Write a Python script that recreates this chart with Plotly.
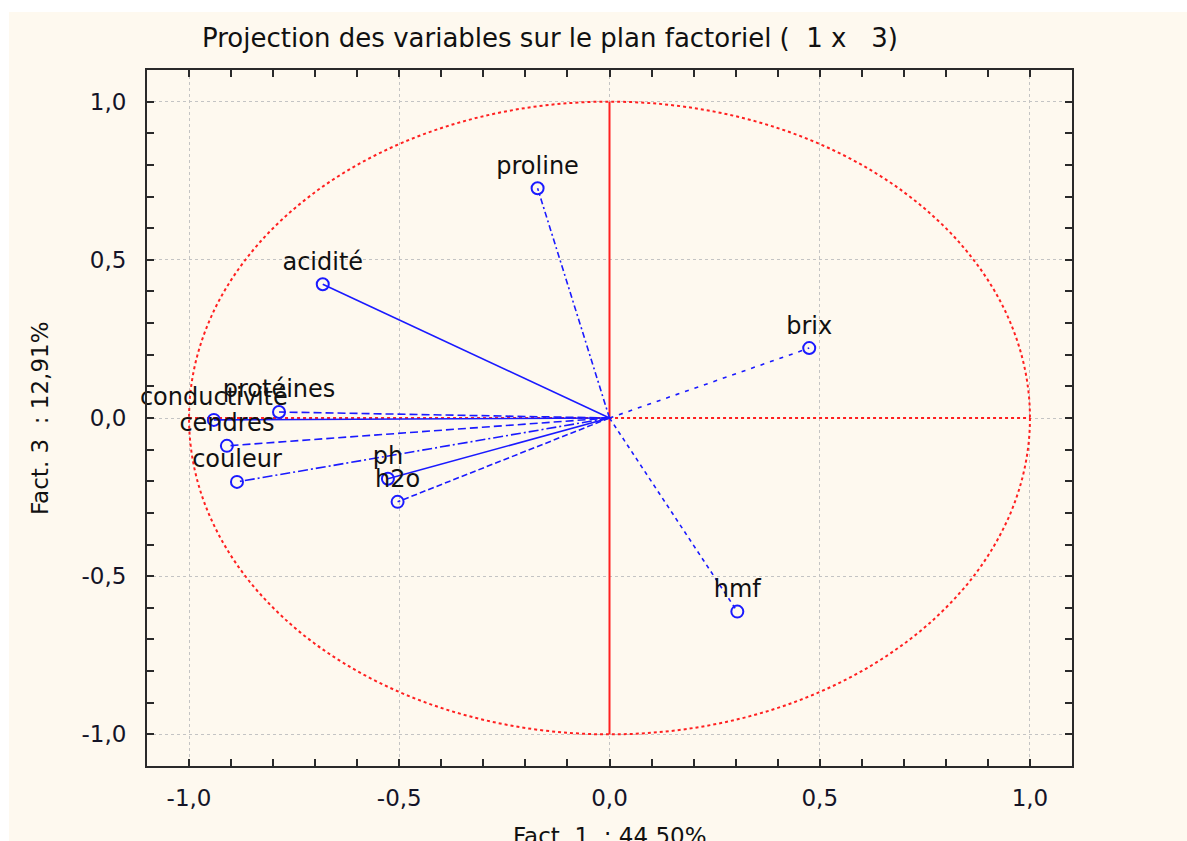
import plotly.graph_objects as go

# ---- data ----
variables = ["proline", "acidité", "brix", "hmf", "protéines", "conductivité",
             "cendres", "couleur", "ph", "h2o"]
fact1 = [-0.171, -0.682, 0.475, 0.304, -0.786, -0.941, -0.910, -0.886, -0.527, -0.504]
fact3 = [0.726, 0.423, 0.221, -0.612, 0.019, -0.006, -0.088, -0.202, -0.192, -0.265]
tick_values = [-1.0, -0.5, 0.0, 0.5, 1.0]
tick_labels = ["-1,0", "-0,5", "0,0", "0,5", "1,0"]

title_text = "Projection des variables sur le plan factoriel (  1 x   3)"
xtitle_text = "Fact. 1  : 44,50%"
ytitle_text = "Fact. 3  : 12,91%"

# ---- styles ----
line_dash = {
    "proline": "6px,3px,2px,3px",
    "acidité": "solid",
    "brix": "4px,6px",
    "hmf": "4px,4px",
    "protéines": "8px,4px",
    "conductivité": "solid",
    "cendres": "8px,4px",
    "couleur": "10px,3px,2px,3px",
    "ph": "solid",
    "h2o": "6px,3px",
}
BLUE = "#1a1aff"
RED = "#ff2020"
CREAM = "#fef9ef"
FRAME = "#2a2a2a"
FONT = "DejaVu Sans, Liberation Sans, Arial, sans-serif"

fig = go.Figure()

for name, x, y in zip(variables, fact1, fact3):
    fig.add_trace(go.Scatter(
        x=[0, x], y=[0, y], mode="lines",
        line=dict(color=BLUE, width=1.6, dash=line_dash[name]),
        hoverinfo="skip", showlegend=False,
    ))

fig.add_trace(go.Scatter(
    x=fact1, y=fact3, mode="markers+text",
    text=variables, textposition="top center",
    textfont=dict(family=FONT, size=24, color="#111111"),
    marker=dict(symbol="circle-open", size=12, color=BLUE, line=dict(width=2, color=BLUE)),
    cliponaxis=False, showlegend=False,
))

# plot-area geometry in pixels (for paper-referenced decorations)
L, R, T, B = 147, 1072, 70, 766
W, H = R - L, B - T

shapes = [
    # cream page background (white strip on top and left)
    dict(type="rect", xref="paper", yref="paper",
         x0=(9 - L) / W, x1=(1200 - L) / W, y0=(B - 860) / H, y1=(B - 12) / H,
         fillcolor=CREAM, line=dict(width=0), layer="below"),
    # unit circle
    dict(type="circle", xref="x", yref="y", x0=-1, y0=-1, x1=1, y1=1,
         line=dict(color=RED, width=2, dash="dot"), layer="between"),
    # vertical axis line
    dict(type="line", xref="x", yref="y", x0=0, y0=-1, x1=0, y1=1,
         line=dict(color=RED, width=2), layer="between"),
    # horizontal axis line
    dict(type="line", xref="x", yref="y", x0=-1, y0=0, x1=1, y1=0,
         line=dict(color=RED, width=2, dash="dot"), layer="between"),
]

axis_common = dict(
    range=[-1.1, 1.1],
    tickvals=tick_values, ticktext=tick_labels,
    ticks="inside", ticklen=7, tickwidth=2, tickcolor=FRAME,
    minor=dict(dtick=0.1, tick0=0, ticks="inside", ticklen=7, tickwidth=2,
               tickcolor=FRAME, showgrid=False),
    showline=True, linecolor=FRAME, linewidth=2, mirror="allticks",
    showgrid=True, gridcolor="#c4c4c4", gridwidth=1, griddash="dot",
    zeroline=False,
    tickfont=dict(family=FONT, size=23, color="#141428"),
    fixedrange=True,
)

fig.update_layout(
    width=1187, height=841,
    margin=dict(l=L, r=1187 - R, t=T, b=841 - B),
    paper_bgcolor="white", plot_bgcolor="white",
    shapes=shapes,
    xaxis=dict(**axis_common, ticklabelstandoff=10),
    yaxis=dict(**axis_common, ticklabelstandoff=14),
    title=dict(text=title_text, xref="container", yref="container",
               x=550 / 1187, y=1 - 38 / 841, xanchor="center", yanchor="middle",
               font=dict(family=FONT, size=26, color="#111111")),
    annotations=[
        dict(text=xtitle_text, xref="paper", yref="paper",
             x=(610 - L) / W, y=(B - 836) / H, xanchor="center", yanchor="middle",
             showarrow=False, font=dict(family=FONT, size=23, color="#111111")),
        dict(text=ytitle_text, xref="paper", yref="paper", textangle=-90,
             x=(40 - L) / W, y=0.5, xanchor="center", yanchor="middle",
             showarrow=False, font=dict(family=FONT, size=23, color="#111111")),
    ],
    showlegend=False,
)

fig.write_html("out.html")
